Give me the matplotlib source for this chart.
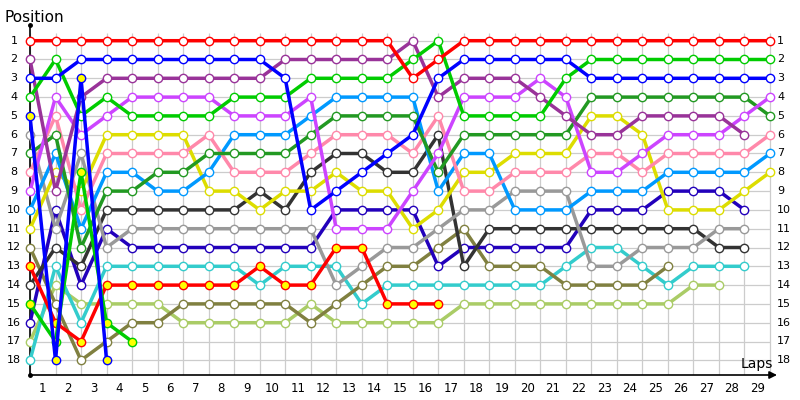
import matplotlib
matplotlib.use("Agg")
import matplotlib.pyplot as plt
from matplotlib.transforms import blended_transform_factory

laps = list(range(0, 30))
lap_labels = [str(i) for i in range(1, 30)]
positions = list(range(1, 19))

red = [1, 1, 1, 1, 1, 1, 1, 1, 1, 1, 1, 1, 1, 1, 1, 3, 2, 1, 1, 1, 1, 1, 1, 1, 1, 1, 1, 1, 1, 1]
purple = [2, 9, 4, 3, 3, 3, 3, 3, 3, 3, 2, 2, 2, 2, 2, 1, 4, 3, 3, 3, 4, 5, 6, 6, 5, 5, 5, 5, 6]
blue = [3, 3, 2, 2, 2, 2, 2, 2, 2, 2, 3, 10, 9, 8, 7, 6, 3, 2, 2, 2, 2, 2, 3, 3, 3, 3, 3, 3, 3, 3]
green = [4, 2, 5, 4, 5, 5, 5, 5, 4, 4, 4, 3, 3, 3, 3, 2, 1, 5, 5, 5, 5, 3, 2, 2, 2, 2, 2, 2, 2, 2]
blue_y = [5, 18, 3, 18]
grey = [6, 11, 7, 12, 11, 11, 11, 11, 11, 11, 11, 11, 14, 13, 12, 12, 11, 10, 10, 9, 9, 9, 13, 13, 12, 12, 12, 11, 11]
dgreen = [7, 6, 12, 9, 9, 8, 8, 7, 7, 7, 7, 6, 5, 5, 5, 5, 8, 6, 6, 6, 6, 6, 4, 4, 4, 4, 4, 4, 4, 5]
pink = [8, 5, 10, 7, 7, 7, 7, 6, 8, 8, 8, 7, 6, 6, 6, 7, 5, 9, 9, 8, 8, 8, 7, 7, 8, 7, 7, 7, 7, 6]
magenta = [9, 4, 6, 5, 4, 4, 4, 4, 5, 5, 5, 4, 11, 11, 11, 9, 7, 4, 4, 4, 3, 4, 8, 8, 7, 6, 6, 6, 5, 4]
lblue = [10, 7, 11, 8, 8, 9, 9, 8, 6, 6, 6, 5, 4, 4, 4, 4, 9, 7, 7, 10, 10, 10, 9, 9, 9, 8, 8, 8, 8, 7]
yellow = [11, 8, 9, 6, 6, 6, 6, 9, 9, 10, 9, 9, 8, 9, 9, 11, 10, 8, 8, 7, 7, 7, 5, 5, 6, 10, 10, 10, 9, 8]
olive = [12, 15, 18, 17, 16, 16, 15, 15, 15, 15, 15, 16, 15, 14, 13, 13, 12, 11, 13, 13, 13, 14, 14, 14, 14, 13]
red_y = [13, 16, 17, 14, 14, 14, 14, 14, 14, 13, 14, 14, 12, 12, 15, 15, 15]
black = [14, 12, 13, 10, 10, 10, 10, 10, 10, 9, 10, 8, 7, 7, 8, 8, 6, 13, 11, 11, 11, 11, 11, 11, 11, 11, 11, 12, 12]
green_y = [15, 17, 8, 16, 17]
navy = [16, 10, 14, 11, 12, 12, 12, 12, 12, 12, 12, 12, 10, 10, 10, 10, 13, 12, 12, 12, 12, 12, 10, 10, 10, 9, 9, 9, 10]
lgreen = [17, 14, 15, 15, 15, 15, 16, 16, 16, 16, 16, 15, 16, 16, 16, 16, 16, 15, 15, 15, 15, 15, 15, 15, 15, 15, 14, 14]
cyan = [18, 13, 16, 13, 13, 13, 13, 13, 13, 14, 13, 13, 13, 15, 14, 14, 14, 14, 14, 14, 14, 13, 12, 12, 13, 14, 13, 13, 13]

# (values, line colour, yellow marker fill)
series = [
    (lgreen, "#aacc66", False),
    (cyan, "#33cccc", False),
    (olive, "#808040", False),
    (navy, "#2200bb", False),
    (black, "#333333", False),
    (grey, "#999999", False),
    (yellow, "#dddd00", False),
    (lblue, "#0099ff", False),
    (pink, "#ff88aa", False),
    (dgreen, "#229922", False),
    (magenta, "#cc44ff", False),
    (purple, "#993399", False),
    (green, "#00cc00", False),
    (blue, "#0000ff", False),
    (red, "#ff0000", False),
    (red_y, "#ff0000", True),
    (green_y, "#00cc00", True),
    (blue_y, "#0000ff", True),
]

W, H = 800, 400
fig = plt.figure(figsize=(8, 4), dpi=100)
ax_left, ax_top, ax_right, ax_bottom = 30, 25, 785, 375
ax = fig.add_axes([ax_left / W, (H - ax_bottom) / H, (ax_right - ax_left) / W, (ax_bottom - ax_top) / H])
col_px = 740 / 29.0
row_px = 18.8
x_max = (ax_right - ax_left) / col_px
y_top = 1 + (ax_top - 40.7) / row_px
y_bot = 1 + (ax_bottom - 40.7) / row_px
ax.set_xlim(0, x_max)
ax.set_ylim(y_bot, y_top)
for s in ax.spines.values():
    s.set_visible(False)
ax.set_xticks([])
ax.set_yticks([])
ax.patch.set_alpha(0)

# grid
grid_top = 1 + (33 - 40.7) / row_px
ax.vlines(laps, grid_top, y_bot, color="#cccccc", lw=0.9, zorder=0)
ax.hlines(positions, 0, laps[-1], color="#cccccc", lw=0.9, zorder=0)

# axes lines
ax.plot([0, 0], [y_top, y_bot], color="black", lw=1.2, zorder=1, clip_on=False)
ax.plot([0], [y_top], "o", color="black", ms=2.5, clip_on=False)
ax.plot([0], [y_bot], "o", color="black", ms=2.5, clip_on=False)
arrow_end = (777 - ax_left) / col_px
ax.annotate("", xy=(arrow_end, y_bot), xytext=(0, y_bot),
            arrowprops=dict(arrowstyle="-|>", color="black", lw=1.2, mutation_scale=11,
                            shrinkA=0, shrinkB=0), annotation_clip=False)

for vals, col, yfill in series:
    xs = laps[:len(vals)]
    ax.plot(xs, vals, color=col, lw=2.5, zorder=3, solid_joinstyle="round",
            marker="o", ms=6, mfc="#ffff00" if yfill else "white", mec=col, mew=1.0,
            clip_on=False)

# tick labels
tr = blended_transform_factory(ax.transData, ax.transAxes)
lab_y = (ax_bottom - 389) / (ax_bottom - ax_top)
for i, lab in enumerate(lap_labels):
    ax.text(i + 0.5, lab_y, lab, transform=tr, ha="center", va="center", fontsize=8.5,
            family="DejaVu Sans")
left_x = (14 - ax_left) / col_px
right_x = (777 - ax_left) / col_px
for p in positions:
    ax.text(left_x, p, str(p), ha="center", va="center", fontsize=8, clip_on=False)
    ax.text(right_x, p, str(p), ha="left", va="center", fontsize=8, clip_on=False)

fig.text(4 / W, 1 - 21.5 / H, "Position", fontsize=11, ha="left", va="baseline")
fig.text(741 / W, 1 - 368 / H, "Laps", fontsize=10, ha="left", va="baseline")

fig.savefig("out.png", dpi=100)
